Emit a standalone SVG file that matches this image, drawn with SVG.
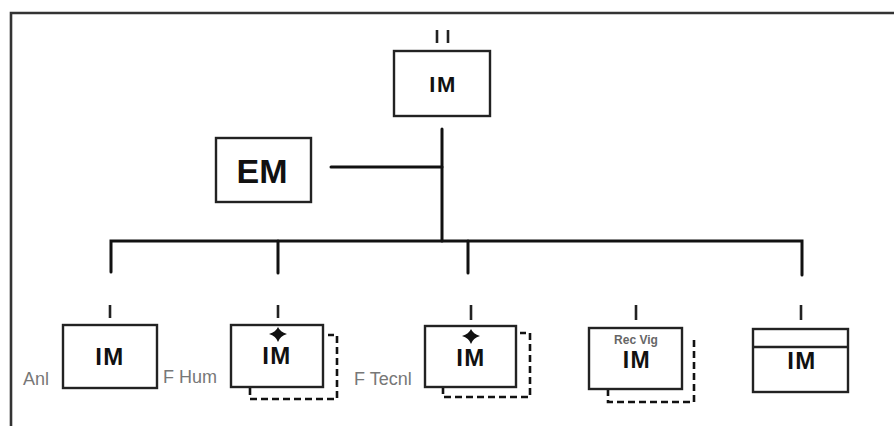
<svg xmlns="http://www.w3.org/2000/svg" width="894" height="426" viewBox="0 0 894 426">
<style>
.box{fill:#fff;stroke:#222;stroke-width:2.4}
.dash{fill:none;stroke:#111;stroke-width:2.6;stroke-dasharray:7,4}
.con{fill:none;stroke:#111;stroke-width:3;stroke-linecap:round}
.tick{fill:none;stroke:#222;stroke-width:2.6}
.im{font-family:"Liberation Sans",Arial,sans-serif;font-weight:bold;font-size:24px;fill:#111;text-anchor:middle;letter-spacing:1.5px}
.lbl{font-family:"Liberation Sans",Arial,sans-serif;font-size:18px;fill:#777}
.star{fill:#111}
</style>
<rect width="894" height="426" fill="#fff"/>
<path d="M11,426 V13 H894" fill="none" stroke="#333" stroke-width="2.6"/>
<g id="connectors">
<line class="con" x1="442" y1="129" x2="442" y2="241"/>
<line class="con" x1="331" y1="167" x2="442" y2="167"/>
<polyline class="con" points="111,272 111,241 802,241 802,275"/>
<line class="con" x1="278" y1="241" x2="278" y2="273"/>
<line class="con" x1="468" y1="241" x2="468" y2="273"/>
</g>
<g id="top-im">
<line class="tick" x1="437" y1="30" x2="437" y2="43"/>
<line class="tick" x1="448" y1="30" x2="448" y2="43"/>
<rect class="box" x="394" y="51" width="96" height="65"/>
<text class="im" x="443" y="92" style="font-size:22px">IM</text>
</g>
<g id="em">
<rect class="box" x="216" y="138" width="95" height="64"/>
<text x="262" y="183" font-family="Liberation Sans,Arial,sans-serif" font-weight="bold" font-size="34" fill="#111" text-anchor="middle">EM</text>
</g>
<g id="anl">
<line class="tick" x1="110" y1="305" x2="110" y2="318"/>
<rect class="box" x="63" y="325" width="94" height="63"/>
<text class="im" x="110" y="365">IM</text>
<text class="lbl" x="23" y="385">Anl</text>
</g>
<g id="fhum">
<path class="dash" d="M250,388 V399 H337 V335 H328"/>
<line class="tick" x1="278" y1="305" x2="278" y2="318"/>
<rect class="box" x="231" y="325" width="92" height="62"/>
<path class="star" d="M278,327 Q280,332 287,334 Q280,336 278,342 Q276,336 269,334 Q276,332 278,327Z"/>
<text class="im" x="277" y="364">IM</text>
<text class="lbl" x="163" y="383">F Hum</text>
</g>
<g id="ftecnl">
<path class="dash" d="M443,387 V397 H530 V333 H520"/>
<line class="tick" x1="471" y1="305" x2="471" y2="320"/>
<rect class="box" x="425" y="326" width="91" height="61"/>
<path class="star" d="M471,329 Q473,334 480,336 Q473,338 471,344 Q469,338 462,336 Q469,334 471,329Z"/>
<text class="im" x="471" y="366">IM</text>
<text class="lbl" x="354" y="385">F Tecnl</text>
</g>
<g id="recvig">
<path class="dash" d="M608,389 V402 H694 V338"/>
<line class="tick" x1="636" y1="305" x2="636" y2="320"/>
<rect class="box" x="589" y="328" width="93" height="61"/>
<text x="636" y="344" font-family="Liberation Sans,Arial,sans-serif" font-weight="bold" font-size="12" fill="#666" text-anchor="middle">Rec Vig</text>
<text class="im" x="637" y="368" style="font-size:23px">IM</text>
</g>
<g id="im5">
<line class="tick" x1="801" y1="305" x2="801" y2="320"/>
<rect class="box" x="753" y="329" width="95" height="63"/>
<line class="tick" x1="753" y1="347" x2="848" y2="347" style="stroke-width:2.4"/>
<text class="im" x="802" y="369">IM</text>
</g>
</svg>
